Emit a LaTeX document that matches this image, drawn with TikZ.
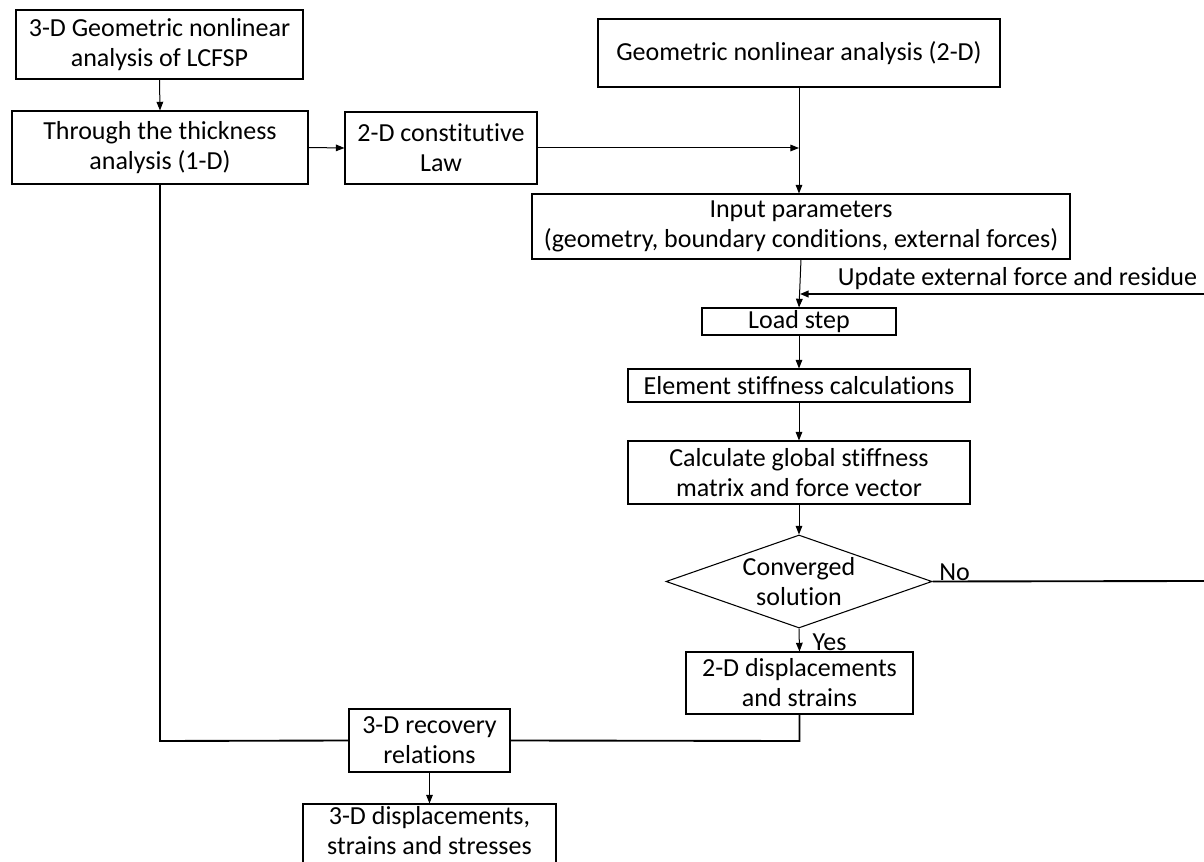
\documentclass[tikz,border=0pt]{standalone}
\usepackage{fontspec}
\setmainfont{Carlito}[Ligatures={NoCommon}]
\usetikzlibrary{arrows.meta,shapes.geometric}
\begin{document}
\begin{tikzpicture}[x=0.75pt,y=-0.75pt,
  txt/.style={font=\fontsize{19.5}{22.5}\selectfont, align=center, inner sep=0pt},
  box/.style={txt, draw, line width=0.8pt},
  dia/.style={draw, shape=diamond, line width=0.8pt, inner sep=0pt, minimum width=199.5pt, minimum height=69.75pt},
  arr/.style={line width=0.75pt, -{Triangle[length=6.5pt,width=5pt]}},
  thick line/.style={line width=1.4pt},
  thick arr/.style={line width=1.4pt, -{Triangle[length=6.5pt,width=5pt]}}]
\useasboundingbox (0,0) rectangle (1204,862);
\clip (0,0) rectangle (1204,862);

\node[box, minimum width=215.25pt, minimum height=51.75pt] (b1) at (159.5,44.5) {3-D Geometric nonlinear\\analysis of LCFSP};
\node[box, minimum width=222pt, minimum height=54.75pt] (b2) at (160,147.5) {Through the thickness\\analysis (1-D)};
\node[box, minimum width=144pt, minimum height=54pt] (b3) at (441,148) {2-D constitutive\\Law};
\node[box, minimum width=301.5pt, minimum height=51pt] (b4) at (799,53) {Geometric nonlinear analysis (2-D)};
\node[box, minimum width=403.5pt, minimum height=48.75pt] (inp) at (801,226.5) {Input parameters\\(geometry, boundary conditions, external forces)};
\node[box, minimum width=145.5pt, minimum height=20.25pt] (load) at (799,321.5) {Load step};
\node[box, minimum width=256.5pt, minimum height=24.75pt] (elem) at (799,385.5) {Element stiffness calculations};
\node[box, minimum width=256.5pt, minimum height=47.25pt] (calc) at (799,472.5) {Calculate global stiffness\\matrix and force vector};
\node[dia] (conv) at (799,581.5) {};
\node[txt] (convt) at (conv.center) {Converged\\solution};
\node[box, minimum width=170.25pt, minimum height=46.5pt] (disp) at (799.5,683) {2-D displacements\\and strains};
\node[box, minimum width=120.75pt, minimum height=47.25pt] (rec) at (429.5,740.5) {3-D recovery\\relations};
\node[box, minimum width=189.75pt, minimum height=49.5pt] (fin) at (429.5,837) {};
\node[txt] (fint) at (429.5,831) {3-D displacements,\\strains and stresses};

\node[txt] (upd) at (1017.5,279) {Update external force and residue};
\node[txt] (no) at (954.5,572) {No};
\node[txt] (yes) at (829.5,642) {Yes};

\coordinate (j1) at (799,148);
\coordinate (fb) at (1204,294);
\coordinate (fbend) at (800,294);
\coordinate (noend) at (1204,581);
\coordinate (c1) at (799.5,741);
\coordinate (c2) at (160,741);

\draw[arr] (b1.south) -- (b2.north);
\draw[arr] (b2.east) -- (b3.west);
\draw[arr] (b3.east) -- (j1);
\draw[arr] (b4.south) -- (b4.south |- inp.north);
\draw[arr] (inp.south) -- (load.north);
\draw[thick arr] (fb) -- (fbend);
\draw[arr] (load.south) -- (elem.north);
\draw[arr] (elem.south) -- (calc.north);
\draw[arr] (calc.south) -- (conv.north);
\draw[thick line] (conv.east) -- (noend);
\draw[arr] (conv.south) -- (disp.north);
\draw[thick line] (disp.south) -- (c1) -- (rec.east);
\draw[thick line] (b2.south) -- (c2) -- (rec.west);
\draw[arr] (rec.south) -- (fin.north);
\end{tikzpicture}
\end{document}
